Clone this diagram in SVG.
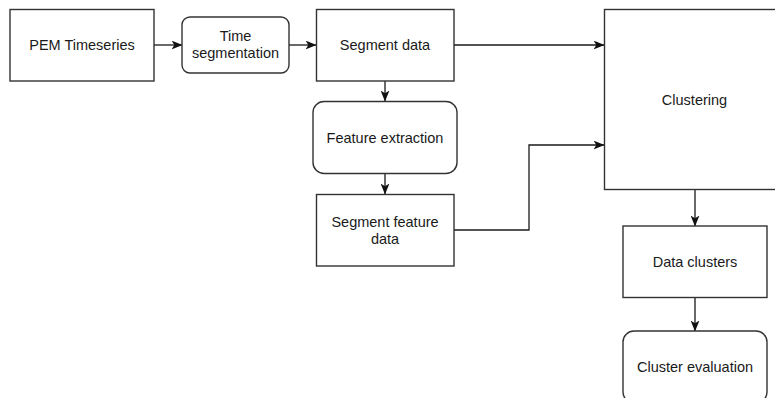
<svg xmlns="http://www.w3.org/2000/svg" width="775" height="398" viewBox="0 0 775 398">
  <style>
    .box { fill: #ffffff; stroke: #333333; stroke-width: 1.4; }
    .lbl { font-family: "Liberation Sans", Arial, sans-serif; font-size: 14.5px; fill: #1a1a1a; text-anchor: middle; dominant-baseline: central; }
    .edge { fill: none; stroke: #1a1a1a; stroke-width: 1.3; marker-end: url(#arrow); }
  </style>
  <defs>
    <marker id="arrow" viewBox="0 0 10 8" refX="9.5" refY="4" markerWidth="11" markerHeight="9" markerUnits="userSpaceOnUse" orient="auto">
      <path d="M0,0 L10,4 L0,8 L2.5,4 Z" fill="#111111"/>
    </marker>
  </defs>
  <rect width="775" height="398" fill="#ffffff"/>

  <g id="connectors">
    <path class="edge" d="M154,45 H182"/>
    <path class="edge" d="M289,45 H316"/>
    <path class="edge" d="M454,45 H604"/>
    <path class="edge" d="M385,81 V101"/>
    <path class="edge" d="M385,174 V194"/>
    <path class="edge" d="M454,230 H529 V145 H604"/>
    <path class="edge" d="M695,189 V226"/>
    <path class="edge" d="M695,297 V331"/>
  </g>

  <g id="pem-timeseries">
    <rect class="box" x="10" y="9.5" width="144" height="71.5"/>
    <text class="lbl" x="82" y="45">PEM Timeseries</text>
  </g>
  <g id="time-segmentation">
    <rect class="box" x="182" y="17" width="107" height="56" rx="8"/>
    <text class="lbl" x="235.5" y="36">Time</text>
    <text class="lbl" x="235.5" y="53">segmentation</text>
  </g>
  <g id="segment-data">
    <rect class="box" x="316.5" y="9.5" width="137.5" height="71.5"/>
    <text class="lbl" x="385" y="45">Segment data</text>
  </g>
  <g id="feature-extraction">
    <rect class="box" x="313" y="101.5" width="144" height="72" rx="11"/>
    <text class="lbl" x="385" y="138">Feature extraction</text>
  </g>
  <g id="segment-feature-data">
    <rect class="box" x="316.5" y="194.5" width="137.5" height="71.5"/>
    <text class="lbl" x="385" y="222">Segment feature</text>
    <text class="lbl" x="385" y="239">data</text>
  </g>
  <g id="clustering">
    <rect class="box" x="604.5" y="9.5" width="180" height="180"/>
    <text class="lbl" x="694.5" y="100">Clustering</text>
  </g>
  <g id="data-clusters">
    <rect class="box" x="623" y="226" width="144" height="71.5"/>
    <text class="lbl" x="695" y="262">Data clusters</text>
  </g>
  <g id="cluster-evaluation">
    <rect class="box" x="623" y="331" width="144" height="72" rx="11"/>
    <text class="lbl" x="695" y="367">Cluster evaluation</text>
  </g>
</svg>
